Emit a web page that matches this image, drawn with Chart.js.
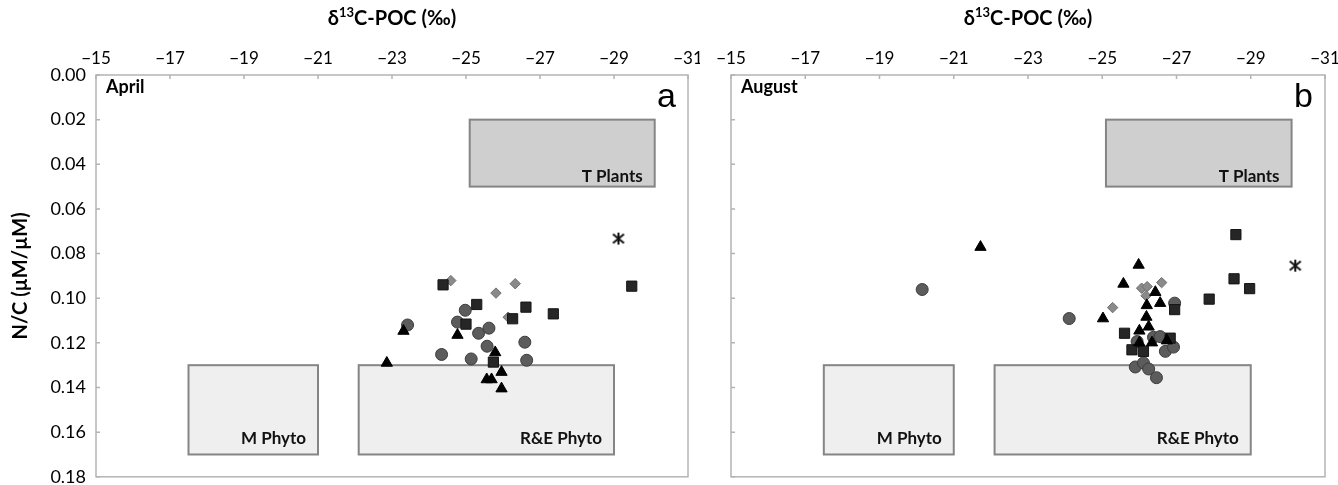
<!DOCTYPE html>
<html>
<head>
<meta charset="utf-8">
<script src="https://cdn.jsdelivr.net/npm/chart.js@4.4.1/dist/chart.umd.min.js"></script>
<style>
    html, body { margin: 0; padding: 0; background: #fff; }
    #wrap { position: relative; width: 1338px; height: 485px; }
    #chartA { position: absolute; left: 0; top: 0; }
    #chartB { position: absolute; left: 700px; top: 0; }
</style>
</head>
<body>
<div id="wrap">
    <canvas id="chartA" width="700" height="485"></canvas>
    <canvas id="chartB" width="638" height="485"></canvas>
</div>
<script>
// 軸の範囲
const xRange = [-31, -15];
const yRange = [0, 0.18];

// April (a) : [δ13C, N/C]
const aprilCircles = [[-23.42, 0.112], [-24.98, 0.1054], [-24.77, 0.1107], [-25.34, 0.1157], [-25.62, 0.1134],
    [-25.57, 0.1215], [-24.34, 0.1252], [-25.14, 0.1272], [-26.59, 0.1197], [-26.64, 0.1278]];
const aprilSquares = [[-24.38, 0.094], [-25.29, 0.1028], [-26.62, 0.104], [-27.36, 0.107], [-26.26, 0.1092],
    [-25.0, 0.1116], [-25.74, 0.1286], [-29.48, 0.0946]];
const aprilTriangles = [[-23.31, 0.1147], [-22.86, 0.129], [-24.77, 0.1165], [-25.79, 0.1243], [-25.56, 0.1364],
    [-25.69, 0.1364], [-25.96, 0.1331], [-25.96, 0.1405]];
const aprilDiamonds = [[-24.59, 0.0921], [-25.81, 0.0977], [-26.33, 0.0935], [-26.14, 0.1085]];
const aprilStar = [[-29.12, 0.0733]];

// August (b)
const augustCircles = [[-20.15, 0.0961], [-24.11, 0.1091], [-26.95, 0.1022], [-26.38, 0.1175], [-26.56, 0.1172],
    [-25.94, 0.1194], [-26.70, 0.1238], [-26.92, 0.1219], [-25.89, 0.1308], [-26.11, 0.129], [-26.25, 0.1317], [-26.46, 0.1356]];
const augustSquares = [[-28.60, 0.0715], [-28.55, 0.0913], [-28.97, 0.0957], [-27.88, 0.1004], [-26.95, 0.1051],
    [-25.60, 0.1157], [-26.83, 0.1179], [-25.80, 0.1231], [-26.11, 0.1238]];
const augustTriangles = [[-21.72, 0.0771], [-25.98, 0.0851], [-25.57, 0.0936], [-26.43, 0.0973], [-26.56, 0.1022],
    [-26.20, 0.1032], [-25.02, 0.1091], [-26.19, 0.1084], [-26.25, 0.1128], [-26.00, 0.1146], [-26.00, 0.1199],
    [-26.34, 0.1199], [-26.74, 0.119]];
const augustDiamonds = [[-26.06, 0.0955], [-26.21, 0.0948], [-26.60, 0.093], [-26.18, 0.0989], [-25.28, 0.1042]];
const augustStar = [[-30.20, 0.0854]];

// 端成分のボックス (δ13C 範囲, N/C 範囲)
const boxNames = ['T Plants', 'M Phyto', 'R&E Phyto'];
const boxX = [[-25.1, -30.1], [-17.5, -21.0], [-22.1, -29.0]];
const boxY = [[0.02, 0.05], [0.13, 0.17], [0.13, 0.17]];

const textFont = 'Lato, "Open Sans", sans-serif';

const pts = arr => arr.map(p => ({ x: p[0], y: p[1] }));

// Excel風のスターマーカー (× + 縦線)
const starMarker = document.createElement('canvas');
starMarker.width = 14;
starMarker.height = 14;
(function () {
    const c = starMarker.getContext('2d');
    c.strokeStyle = '#111';
    c.lineWidth = 2;
    c.beginPath();
    c.moveTo(1.5, 2.5); c.lineTo(12.5, 11.5);
    c.moveTo(12.5, 2.5); c.lineTo(1.5, 11.5);
    c.moveTo(7, 1); c.lineTo(7, 13);
    c.stroke();
})();

// 枠・内向き目盛り・ボックス・ラベル
const panelDecor = {
    id: 'panelDecor',
    beforeDatasetsDraw(chart, args, opts) {
        const { ctx, chartArea: a } = chart;
        const xs = chart.scales.x, ys = chart.scales.y;
        ctx.save();

        // ボックス
        boxNames.forEach((name, i) => {
            const x1 = xs.getPixelForValue(boxX[i][0]), x2 = xs.getPixelForValue(boxX[i][1]);
            const y1 = ys.getPixelForValue(boxY[i][0]), y2 = ys.getPixelForValue(boxY[i][1]);
            ctx.fillStyle = i === 0 ? '#cfcfcf' : '#efefef';
            ctx.fillRect(x1, y1, x2 - x1, y2 - y1);
            ctx.strokeStyle = '#858585';
            ctx.lineWidth = 2;
            ctx.strokeRect(x1, y1, x2 - x1, y2 - y1);
            ctx.fillStyle = '#111';
            ctx.font = 'bold 17px ' + textFont;
            ctx.textAlign = 'right';
            ctx.textBaseline = 'middle';
            ctx.fillText(name, x2 - 12, y2 - (i === 0 ? 10 : 16));
        });

        // 枠
        ctx.strokeStyle = '#b4b4b4';
        ctx.lineWidth = 1.5;
        ctx.strokeRect(a.left, a.top, a.right - a.left, a.bottom - a.top);
        ctx.beginPath();
        xs.ticks.forEach(t => {
            const px = xs.getPixelForValue(t.value);
            ctx.moveTo(px, a.top);
            ctx.lineTo(px, a.top + 4);
        });
        ys.ticks.forEach(t => {
            const py = ys.getPixelForValue(t.value);
            ctx.moveTo(a.left, py);
            ctx.lineTo(a.left + 4, py);
        });
        ctx.stroke();

        // 月とパネル記号
        ctx.fillStyle = '#000';
        ctx.font = 'bold 18px ' + textFont;
        ctx.textAlign = 'left';
        ctx.textBaseline = 'middle';
        ctx.fillText(opts.month, a.left + 10, a.top + 12);
        ctx.font = '34px "Liberation Sans", Arial, sans-serif';
        ctx.textAlign = 'right';
        ctx.textBaseline = 'alphabetic';
        ctx.fillText(opts.letter, a.right - 12, a.top + 32);

        // x軸タイトル (上付き13)
        const cx = (a.left + a.right) / 2, cy = 19;
        const big = 'bold 20px ' + textFont, small = 'bold 13px ' + textFont;
        ctx.font = big;
        const w1 = ctx.measureText('δ').width, w3 = ctx.measureText('C-POC (‰)').width;
        ctx.font = small;
        const w2 = ctx.measureText('13').width;
        let px = cx - (w1 + w2 + w3) / 2;
        ctx.textAlign = 'left';
        ctx.textBaseline = 'middle';
        ctx.font = big;
        ctx.fillText('δ', px, cy);
        px += w1;
        ctx.font = small;
        ctx.fillText('13', px, cy - 6);
        px += w2;
        ctx.font = big;
        ctx.fillText('C-POC (‰)', px, cy);
        ctx.restore();
    }
};

function makeChart(canvasId, d, month, letter, showYLabels, padRight) {
    const ctx = document.getElementById(canvasId).getContext('2d');
    return new Chart(ctx, {
        type: 'scatter',
        data: {
            datasets: [
                { data: pts(d.triangles), pointStyle: 'triangle', pointRadius: 6.5,
                  backgroundColor: '#000', borderColor: '#000', borderWidth: 1 },
                { data: pts(d.squares), pointStyle: 'rect', pointRadius: 7.2,
                  backgroundColor: '#262626', borderColor: '#151515', borderWidth: 1 },
                { data: pts(d.diamonds), pointStyle: 'rectRot', pointRadius: 5.2,
                  backgroundColor: '#8a8a8a', borderColor: '#6e6e6e', borderWidth: 1 },
                { data: pts(d.circles), pointStyle: 'circle', pointRadius: 6,
                  backgroundColor: '#5c5c5c', borderColor: '#3c3c3c', borderWidth: 1 },
                { data: pts(d.star), pointStyle: starMarker, pointRadius: 7 }
            ]
        },
        options: {
            responsive: false,
            animation: false,
            events: [],
            layout: { padding: { top: 0, right: padRight, bottom: 3, left: 0 } },
            scales: {
                x: {
                    type: 'linear',
                    position: 'top',
                    min: xRange[0],
                    max: xRange[1],
                    reverse: true,
                    grid: { display: false, drawTicks: false },
                    border: { display: false },
                    ticks: {
                        stepSize: 2,
                        padding: 6,
                        color: '#000',
                        font: { family: textFont, size: 17 },
                        callback: v => '\u2212' + Math.abs(v)
                    },
                    afterFit: s => {
                        s.height = 75;
                        s.paddingLeft = 0; s.paddingRight = 0;
                    }
                },
                y: {
                    type: 'linear',
                    position: 'left',
                    min: yRange[0],
                    max: yRange[1],
                    reverse: true,
                    grid: { display: false, drawTicks: false },
                    border: { display: false },
                    ticks: {
                        display: showYLabels,
                        stepSize: 0.02,
                        padding: 10,
                        color: '#000',
                        font: { family: textFont, size: 18 },
                        callback: v => v.toFixed(2)
                    },
                    title: {
                        display: showYLabels,
                        text: 'N/C (µM/µM)',
                        color: '#000',
                        font: { family: textFont, size: 20, weight: 'bold' },
                        padding: { top: 9, bottom: 0 }
                    },
                    afterFit: s => {
                        s.width = showYLabels ? 96 : 31;
                        s.paddingTop = 0; s.paddingBottom = 0;
                    }
                }
            },
            plugins: {
                legend: { display: false },
                tooltip: { enabled: false },
                panelDecor: { month: month, letter: letter }
            }
        },
        plugins: [panelDecor]
    });
}

makeChart('chartA', {
    circles: aprilCircles, squares: aprilSquares, triangles: aprilTriangles,
    diamonds: aprilDiamonds, star: aprilStar
}, 'April', 'a', true, 12);

makeChart('chartB', {
    circles: augustCircles, squares: augustSquares, triangles: augustTriangles,
    diamonds: augustDiamonds, star: augustStar
}, 'August', 'b', false, 13);
</script>
</body>
</html>
